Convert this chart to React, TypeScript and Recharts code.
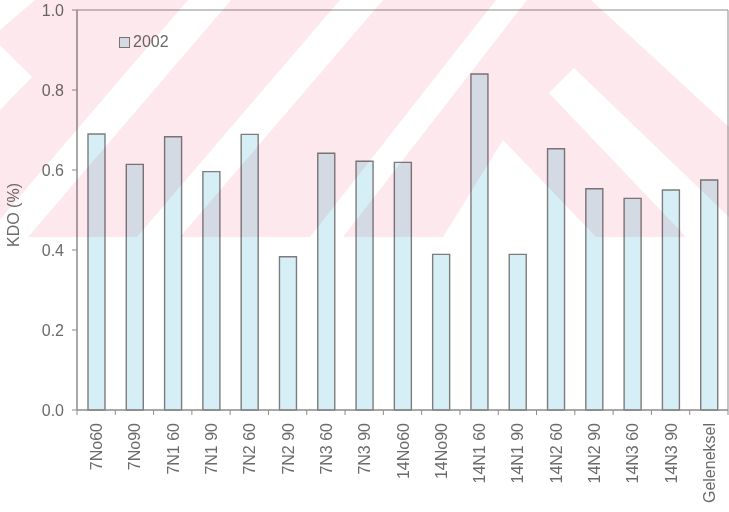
import React from "react"
import { BarChart, Bar, XAxis, YAxis, Legend, ReferenceArea } from "recharts"

const categories = [
  "7No60", "7No90", "7N1 60", "7N1 90", "7N2 60", "7N2 90", "7N3 60", "7N3 90",
  "14No60", "14No90", "14N1 60", "14N1 90", "14N2 60", "14N2 90", "14N3 60", "14N3 90",
  "Geleneksel",
]
const kdo2002 = [
  0.69, 0.614, 0.683, 0.596, 0.689, 0.383, 0.642, 0.622,
  0.619, 0.389, 0.84, 0.389, 0.653, 0.553, 0.529, 0.55,
  0.575,
]
const yTicks = [0, 0.2, 0.4, 0.6, 0.8, 1.0]

const data = categories.map((name, i) => ({ name, kdo: kdo2002[i] }))

const W = 729
const H = 512
const PLOT_LEFT = 77
const PLOT_RIGHT = 1
const BAND = (W - PLOT_LEFT - PLOT_RIGHT) / categories.length

const AXIS = "#8c8c8c"
const TEXT = "#6a6a6a"
const FONT = '"Liberation Sans", Arial, sans-serif'
const BAR_FILL = "#d6eff6"
const BAR_STROKE = "#7c7c7c"

// faint striped stamp behind the upper half of the page
const stampPink = "#fde9ed"
const stampHoles = [
  "0,0 35,0 0,30",
  "0,45 32,77 0,110",
  "188,0 231,0 28,237 -15,237",
  "340,0 383,0 180,237 137,237",
  "496,0 527,0 343,237 310,237",
  "591,0 729,0 729,127",
  "574,68 729,217 729,237 686,237 549,93",
  "503,140 596,237 443,237",
]

function CategoryTick({ x, y, payload, index }: any) {
  const tx = x + 6
  const ty = y + 13
  return (
    <g>
      <line x1={x - BAND / 2} x2={x - BAND / 2} y1={y} y2={y + 5} stroke={AXIS} />
      {index === categories.length - 1 && (
        <line x1={x + BAND / 2} x2={x + BAND / 2} y1={y} y2={y + 5} stroke={AXIS} />
      )}
      <text
        x={tx}
        y={ty}
        transform={`rotate(-90 ${tx} ${ty})`}
        textAnchor="end"
        fontSize={16}
        fill={TEXT}
        fontFamily={FONT}
      >
        {payload.value}
      </text>
    </g>
  )
}

function YAxisTitle({ viewBox }: any) {
  const cx = viewBox.x + 19
  const cy = viewBox.y + viewBox.height / 2 + 5
  return (
    <text
      x={cx}
      y={cy}
      transform={`rotate(-90 ${cx} ${cy})`}
      textAnchor="middle"
      fontSize={16}
      fill={TEXT}
      fontFamily={FONT}
    >
      KDO (%)
    </text>
  )
}

function LegendBox({ payload }: any) {
  return (
    <div style={{ fontFamily: FONT }}>
      {(payload || []).map((entry: any) => (
        <div key={entry.value} style={{ display: "flex", alignItems: "center" }}>
          <svg width={12} height={11}>
            <rect x={0.5} y={0.5} width={10} height={10} fill={BAR_FILL} stroke={BAR_STROKE} />
          </svg>
          <span style={{ marginLeft: 2, fontSize: 16, color: TEXT, lineHeight: "18px" }}>
            {entry.value}
          </span>
        </div>
      ))}
    </div>
  )
}

export default function App() {
  return (
    <div style={{ position: "absolute", left: 0, top: 0, width: W, height: H, background: "#fff" }}>
      <BarChart
        width={W}
        height={H}
        data={data}
        margin={{ top: 10, right: PLOT_RIGHT, bottom: 0, left: 0 }}
      >
        <XAxis
          dataKey="name"
          interval={0}
          height={102}
          tickLine={false}
          tickSize={0}
          tickMargin={0}
          axisLine={{ stroke: AXIS }}
          tick={<CategoryTick />}
        />
        <YAxis
          domain={[0, 1]}
          ticks={yTicks}
          width={PLOT_LEFT}
          tickSize={5}
          tickMargin={8}
          tickFormatter={(v: number) => v.toFixed(1)}
          tick={{ fill: TEXT, fontSize: 16, fontFamily: FONT }}
          tickLine={{ stroke: AXIS }}
          axisLine={{ stroke: AXIS }}
          label={<YAxisTitle />}
        />
        {/* plot frame */}
        <ReferenceArea
          x1={categories[0]}
          x2={categories[categories.length - 1]}
          y1={0}
          y2={1}
          fill="none"
          stroke={AXIS}
          strokeWidth={1}
          ifOverflow="visible"
        />
        <Legend
          layout="horizontal"
          verticalAlign="middle"
          align="center"
          content={<LegendBox />}
          wrapperStyle={{ top: 33, left: 119, width: "auto", height: "auto" }}
        />
        <Bar
          dataKey="kdo"
          name="2002"
          fill={BAR_FILL}
          stroke={BAR_STROKE}
          strokeWidth={1.4}
          barSize={17}
          isAnimationActive={false}
        />
      </BarChart>
      <svg
        width={W}
        height={H}
        style={{ position: "absolute", left: 0, top: 0, pointerEvents: "none", mixBlendMode: "multiply" }}
      >
        <rect x={0} y={0} width={W} height={237} fill={stampPink} />
        {stampHoles.map((pts) => (
          <polygon key={pts} points={pts} fill="#fff" />
        ))}
      </svg>
    </div>
  )
}
